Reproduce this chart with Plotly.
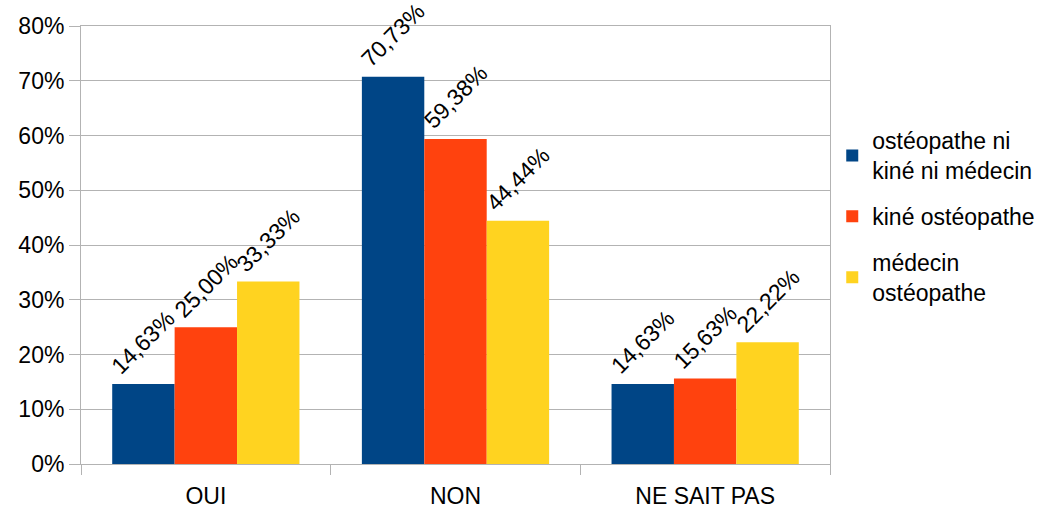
import plotly.graph_objects as go

categories = ["OUI", "NON", "NE SAIT PAS"]
series_names = ["ostéopathe ni<br>kiné ni médecin", "kiné ostéopathe", "médecin<br>ostéopathe"]
values_ni = [14.63, 70.73, 14.63]
values_kine = [25.00, 59.38, 15.63]
values_medecin = [33.33, 44.44, 22.22]
colors = ["#004586", "#ff420e", "#ffd320"]

all_values = [values_ni, values_kine, values_medecin]

FONT = "Liberation Sans, Arial, sans-serif"
GRID = "#b3b3b3"

fig = go.Figure()
for i, (name, vals, col) in enumerate(zip(series_names, all_values, colors)):
    fig.add_trace(go.Bar(
        x=categories, y=vals, name=name, legendgroup=f"g{i}",
        marker=dict(color=col, line=dict(width=0)),
    ))

# rotated value labels above each bar
offsets = [-1, 0, 1]
for off, vals in zip(offsets, all_values):
    for cat, v in zip(categories, vals):
        fig.add_annotation(
            x=cat, y=v, xref="x", yref="y",
            text=f"{v:.2f}%".replace(".", ","),
            showarrow=False, textangle=-45,
            xanchor="center", yanchor="bottom",
            xshift=off * 62.5, yshift=2,
            font=dict(family=FONT, size=23, color="black"),
        )

fig.update_layout(
    width=1053, height=508,
    margin=dict(l=81, r=223, t=26, b=44, autoexpand=False),
    barmode="group", bargap=0.25, bargroupgap=0,
    plot_bgcolor="white", paper_bgcolor="white",
    font=dict(family=FONT, size=23, color="black"),
    showlegend=True,
    legend=dict(
        x=1.003, xanchor="left", y=0.565, yanchor="middle",
        font=dict(family=FONT, size=23, color="black"),
        itemwidth=30, tracegroupgap=13,
        bgcolor="rgba(0,0,0,0)",
    ),
)
fig.update_xaxes(
    showline=True, linecolor=GRID, linewidth=1, mirror=True,
    ticks="outside", tickson="boundaries", ticklen=10, tickcolor=GRID,
    showgrid=False, tickfont=dict(size=23), ticklabelstandoff=11,
)
fig.update_yaxes(
    range=[0, 80], dtick=10, ticksuffix="%",
    showline=True, linecolor=GRID, linewidth=1, mirror=True,
    ticks="outside", ticklen=11, tickcolor=GRID,
    showgrid=True, gridcolor=GRID, gridwidth=1, zeroline=False,
    tickfont=dict(size=23),
)

fig.write_html("out.html")
